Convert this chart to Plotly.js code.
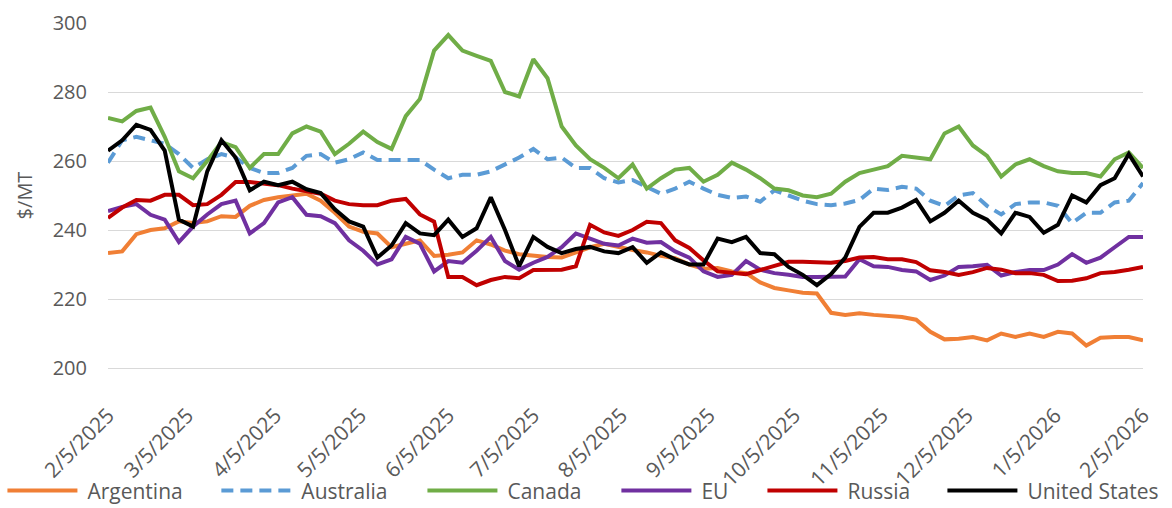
<!DOCTYPE html>
<html><head><meta charset="utf-8">
<script src="https://cdn.plot.ly/plotly-3.0.1.min.js"></script>
<style>html,body{margin:0;padding:0;background:#fff}#chart{width:1172px;height:508px}</style>
</head><body><div id="chart"></div>
<script>
// Sampling: one value every 5 days starting 2025-02-05 (74 samples up to 2026-02-05)
const startDate = '2025-02-05';
const stepDays = 5;

const argentina = [233.3,233.8,238.8,240,240.5,242.5,242,242.5,244,243.8,
  247,248.7,249.5,250,250.5,248.5,245,241,239.5,239,
  235,236,237,232.5,232.8,233.5,237,235.8,234,233,
  232.5,232.2,232,233.5,235,236,235,234.2,233.5,232.5,
  231.8,230,228.8,229,228,227.5,224.8,223.2,222.5,221.8,
  221.6,216,215.4,215.9,215.4,215.2,214.8,214,210.5,208.3,
  208.5,209,208,210,209,210,209,210.5,210,206.5,
  208.8,209,209,208];

const australia = [259.5,266,267,266,265,262,258,260.5,262,261,
  258,256.5,256.5,258,261.5,262,259.5,260.5,262.5,260.3,
  260.3,260.5,260.3,257.5,255,256,256,257,259,261,
  263.5,260.5,261,258,258,255,253.8,254.5,252.5,250.5,
  252,254,252,250.2,249.3,249.7,248.2,251.5,250,248.5,
  247.5,247.2,247.7,248.7,252,251.6,252.5,252,248.5,247,
  250,250.7,247,244.5,247.5,248,248,247,242,245,
  245,248,248.5,253.6];

const canada = [272.5,271.5,274.5,275.5,267,257,255,260,265.5,264,
  258,262,262,268,270,268.5,262,265,268.5,265.5,
  263.5,273,278,292,296.5,292,290.5,289,280,278.7,
  289.5,284,270,264.5,260.5,258,255,259,252,255,
  257.5,258,254,256,259.5,257.5,255,252,251.5,250,
  249.5,250.5,254,256.5,257.5,258.5,261.5,261,260.5,268,
  270,264.5,261.5,255.5,259,260.5,258.5,257,256.5,256.5,
  255.5,260.5,262.5,258];

const eu = [245.5,246.7,247.5,244.4,243,236.5,241,244.5,247.5,248.5,
  239,242,248,249.5,244.4,244,242,237,234,230,
  231.5,238,236,228,231,230.5,234,238,231,228.5,
  230.5,232.2,235,239,237.5,236,235.5,237.5,236.3,236.5,
  233.8,232,228,226.4,227,231,228.5,227.5,227,226.4,
  226.4,226.4,226.5,231.5,229.5,229.3,228.4,228,225.5,226.8,
  229.3,229.5,229.9,226.8,227.8,228.4,228.4,230,233,230.5,
  232,235,238,238];

const russia = [243.5,246.5,248.7,248.5,250.2,250.2,247.2,247.5,250.2,253.9,
  253.9,253.5,253,252,251.2,250.5,248.5,247.5,247.2,247.2,
  248.5,249,244.5,242.4,226.4,226.4,224,225.5,226.4,226,
  228.4,228.4,228.5,229.5,241.5,239.3,238.3,240,242.4,242,
  237,234.8,231.2,228,227.5,227.2,228.4,229.7,230.8,230.8,
  230.7,230.5,231,232,232.2,231.5,231.5,230.7,228.3,227.8,
  227,227.8,229,228.5,227.5,227.5,227,225.2,225.3,226,
  227.5,227.8,228.5,229.3];

const unitedStates = [263,266,270.5,269,263,243,241,257,266,261,
  251.5,254,253,254,251.8,250.7,246,242.5,241,232,
  235.5,242,239,238.5,243,238,240.5,249.5,240,229.5,
  238,235.1,233.3,234.5,235.1,233.8,233.3,235,230.5,233.5,
  231.5,230,230,237.5,236.5,238,233.3,233,229.3,227,
  224,227.2,232,240.9,245,245,246.5,248.7,242.5,245,
  248.5,245,243,239,245,243.8,239.2,241.5,250,248,
  253,255,262,255.5];

const seriesNames = ['Argentina','Australia','Canada','EU','Russia','United States'];
const tickDates = ['2025-02-05','2025-03-05','2025-04-05','2025-05-05','2025-06-05','2025-07-05',
  '2025-08-05','2025-09-05','2025-10-05','2025-11-05','2025-12-05','2026-01-05','2026-02-05'];
const tickLabels = ['2/5/2025','3/5/2025','4/5/2025','5/5/2025','6/5/2025','7/5/2025',
  '8/5/2025','9/5/2025','10/5/2025','11/5/2025','12/5/2025','1/5/2026','2/5/2026'];
const yTicks = [200, 220, 240, 260, 280, 300];

function buildDates(n) {
  const out = [];
  const t0 = Date.parse(startDate + 'T00:00:00Z');
  for (let i = 0; i < n; i++) {
    const d = new Date(t0 + i * stepDays * 86400000);
    out.push(d.toISOString().slice(0, 10));
  }
  return out;
}
const dates = buildDates(argentina.length);

const styles = [
  {color:'#F07F35', dash:'solid'},
  {color:'#5B9BD5', dash:'12px,7px'},
  {color:'#70AD47', dash:'solid'},
  {color:'#7030A0', dash:'solid'},
  {color:'#C00000', dash:'solid'},
  {color:'#000000', dash:'solid'}
];
const values = [argentina, australia, canada, eu, russia, unitedStates];
// one legend box per series so the key spacing can follow the reference
const legendIds = ['legend','legend2','legend3','legend4','legend5','legend6'];
const legendX = [-0.102, 0.1047, 0.3038, 0.4912, 0.6323, 0.8062];

const traces = values.map((v, k) => ({
  type: 'scatter', mode: 'lines', x: dates, y: v, name: seriesNames[k],
  legend: legendIds[k],
  line: {color: styles[k].color, width: 4, dash: styles[k].dash, shape: 'linear'},
  hoverinfo: 'x+y+name'
}));

const FONT = '"Open Sans", Roboto, Arial, sans-serif';
const layout = {
  width: 1172, height: 508,
  margin: {l: 108, r: 29, t: 23, b: 140, autoexpand: false},
  paper_bgcolor: '#ffffff', plot_bgcolor: '#ffffff',
  font: {family: FONT, color: '#595959', size: 20},
  showlegend: true,
  xaxis: {
    type: 'date', range: ['2025-02-05', '2026-02-05'],
    tickmode: 'array', tickvals: tickDates, ticktext: tickLabels,
    tickangle: -45, tickfont: {family: FONT, size: 21, color: '#595959'},
    automargin: false,
    showgrid: false, showline: true, linecolor: '#D9D9D9', linewidth: 1,
    ticks: 'outside', ticklen: 26, tickcolor: 'rgba(0,0,0,0)', zeroline: false, fixedrange: true
  },
  xaxis2: {
    type: 'date', range: ['2025-02-05', '2026-02-05'], overlaying: 'x', anchor: 'y', side: 'bottom',
    tickmode: 'array', tickvals: tickDates, showticklabels: false, automargin: false,
    showgrid: false, showline: false, zeroline: false,
    ticks: 'outside', ticklen: 7, tickcolor: '#D9D9D9', fixedrange: true
  },
  yaxis: {
    range: [200, 300], tickmode: 'array', tickvals: yTicks,
    tickfont: {family: FONT, size: 20, color: '#595959'},
    ticklabelstandoff: 20, automargin: false,
    showgrid: true, gridcolor: '#D9D9D9', gridwidth: 1, zeroline: false,
    showline: false, ticks: '',
    title: {text: '$/MT', font: {family: FONT, size: 20, color: '#595959'}, standoff: 14},
    fixedrange: true
  }
};
legendIds.forEach((id, k) => {
  layout[id] = {orientation: 'h', x: legendX[k], xanchor: 'left', y: -0.356, yanchor: 'middle',
    font: {family: FONT, size: 21, color: '#595959'}, itemwidth: 75,
    bgcolor: 'rgba(0,0,0,0)', borderwidth: 0};
});

Plotly.newPlot('chart', traces, layout, {displayModeBar: false, staticPlot: true}).then(gd => {
  // lengthen the legend line samples to match the reference key
  gd.querySelectorAll('.legendlines path').forEach(p => p.setAttribute('d', 'M5,0h70'));
});
</script>
</body></html>
